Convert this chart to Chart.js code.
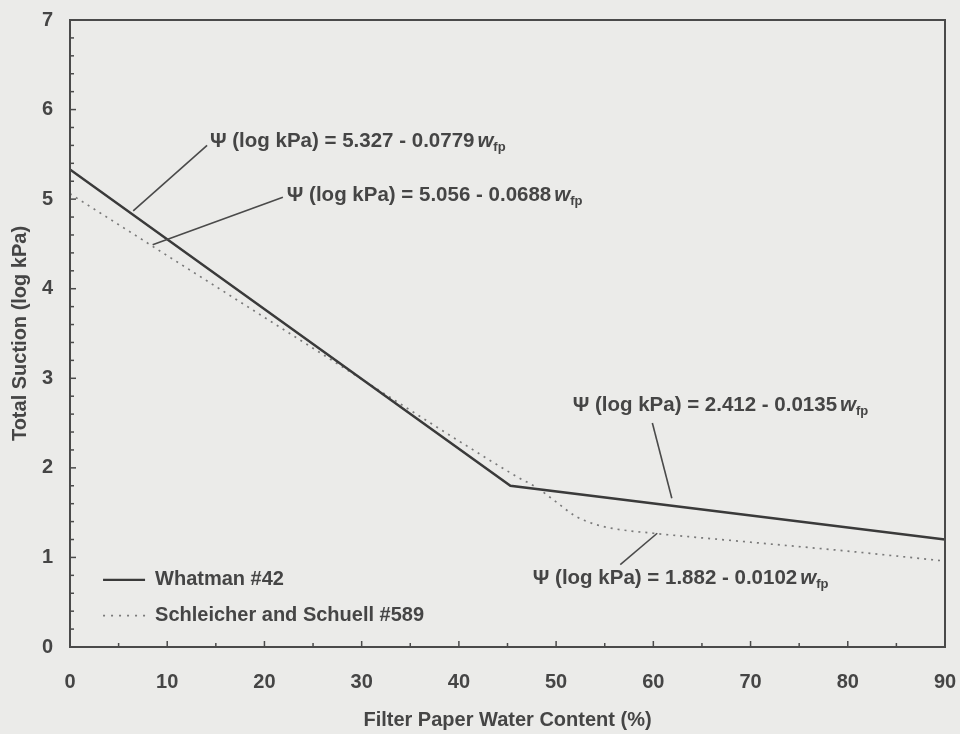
<!DOCTYPE html>
<html>
<head>
<meta charset="utf-8">
<script src="https://cdn.jsdelivr.net/npm/chart.js@4.4.1/dist/chart.umd.min.js"></script>
<style>
  html, body { margin: 0; padding: 0; background: #ebebe9; }
  #wrap { width: 960px; height: 734px; }
</style>
</head>
<body>
<div id="wrap"><canvas id="suctionChart" width="960" height="734"></canvas></div>
<script>
// Whatman #42 calibration (bilinear)
const whatmanX = [0, 45.3, 90];
const whatmanY = [5.33, 1.80, 1.20];

// Schleicher and Schuell #589 calibration (dotted, curved transition)
const schleicherX = [0, 10, 20, 30, 40, 46, 48, 50, 52, 54, 56, 60, 70, 80, 90];
const schleicherY = [5.06, 4.37, 3.68, 2.99, 2.30, 1.90, 1.78, 1.62, 1.46, 1.37, 1.32, 1.27, 1.17, 1.07, 0.96];

// equation labels: text, where it starts (data) and its leader line (data)
const eqText = [
    "\u03A8 (log kPa) = 5.327 - 0.0779",
    "\u03A8 (log kPa) = 5.056 - 0.0688",
    "\u03A8 (log kPa) = 2.412 - 0.0135",
    "\u03A8 (log kPa) = 1.882 - 0.0102"
];
const eqTextX = [14.4, 22.3, 51.7, 47.6];
const eqTextY = [5.64, 5.04, 2.70, 0.77];
const leaderFromX = [14.1, 21.9, 59.9, 56.6];
const leaderFromY = [5.60, 5.02, 2.50, 0.92];
const leaderToX = [6.5, 8.5, 61.9, 60.4];
const leaderToY = [4.87, 4.49, 1.66, 1.27];

const legendLabels = ["Whatman #42", "Schleicher and Schuell #589"];

const textColor = "#454545";
const fontFamily = "'Liberation Sans', Arial, sans-serif";

function toPoints(xs, ys) {
    return xs.map((x, i) => ({ x: x, y: ys[i] }));
}

// draws the frame, inside minor ticks, equations and the legend
const paperPlot = {
    id: "paperPlot",
    afterDraw(chart) {
        const ctx = chart.ctx;
        const area = chart.chartArea;
        const xs = chart.scales.x;
        const ys = chart.scales.y;

        ctx.save();
        ctx.strokeStyle = "#4a4a4a";
        ctx.lineWidth = 2;
        ctx.strokeRect(area.left, area.top, area.right - area.left, area.bottom - area.top);

        // inside ticks
        ctx.lineWidth = 1.5;
        for (let v = 0; v <= 90; v += 5) {
            const px = xs.getPixelForValue(v);
            const len = v % 10 === 0 ? 6 : 4;
            ctx.beginPath();
            ctx.moveTo(px, area.bottom);
            ctx.lineTo(px, area.bottom - len);
            ctx.stroke();
        }
        for (let i = 0; i <= 35; i++) {
            const py = ys.getPixelForValue(i / 5);
            const len = i % 5 === 0 ? 6 : 4;
            ctx.beginPath();
            ctx.moveTo(area.left, py);
            ctx.lineTo(area.left + len, py);
            ctx.stroke();
        }

        // leader lines
        ctx.strokeStyle = "#4a4a4a";
        ctx.lineWidth = 1.6;
        for (let i = 0; i < eqText.length; i++) {
            ctx.beginPath();
            ctx.moveTo(xs.getPixelForValue(leaderFromX[i]), ys.getPixelForValue(leaderFromY[i]));
            ctx.lineTo(xs.getPixelForValue(leaderToX[i]), ys.getPixelForValue(leaderToY[i]));
            ctx.stroke();
        }

        // equations
        ctx.fillStyle = textColor;
        ctx.textBaseline = "middle";
        ctx.textAlign = "left";
        for (let i = 0; i < eqText.length; i++) {
            let px = xs.getPixelForValue(eqTextX[i]);
            const py = ys.getPixelForValue(eqTextY[i]);
            ctx.font = "bold 20.5px " + fontFamily;
            ctx.fillText(eqText[i], px, py);
            px += ctx.measureText(eqText[i]).width + 3;
            ctx.font = "italic bold 20.5px " + fontFamily;
            ctx.fillText("w", px, py);
            px += ctx.measureText("w").width;
            ctx.font = "bold 13px " + fontFamily;
            ctx.fillText("fp", px, py + 6);
        }

        // legend
        ctx.font = "bold 20px " + fontFamily;
        const lx = xs.getPixelForValue(3.4);
        const rows = [ys.getPixelForValue(0.75), ys.getPixelForValue(0.35)];
        for (let i = 0; i < legendLabels.length; i++) {
            ctx.strokeStyle = i === 0 ? "#3a3a3a" : "#7a7a7a";
            ctx.lineWidth = i === 0 ? 2.2 : 1.6;
            ctx.setLineDash(i === 0 ? [] : [2, 6]);
            ctx.beginPath();
            ctx.moveTo(lx, rows[i]);
            ctx.lineTo(lx + 42, rows[i]);
            ctx.stroke();
            ctx.setLineDash([]);
            ctx.fillText(legendLabels[i], lx + 52, rows[i]);
        }
        ctx.restore();
    }
};

const ctx = document.getElementById("suctionChart").getContext("2d");
const chart = new Chart(ctx, {
    type: "scatter",
    data: {
        datasets: [
            {
                label: legendLabels[0],
                data: toPoints(whatmanX, whatmanY),
                showLine: true,
                borderColor: "#3a3a3a",
                borderWidth: 2.4,
                pointRadius: 0,
                tension: 0
            },
            {
                label: legendLabels[1],
                data: toPoints(schleicherX, schleicherY),
                showLine: true,
                borderColor: "#7a7a7a",
                borderWidth: 1.7,
                borderDash: [2, 5],
                pointRadius: 0,
                cubicInterpolationMode: "monotone"
            }
        ]
    },
    options: {
        responsive: false,
        animation: false,
        layout: { padding: { top: 20, right: 15, left: 0, bottom: 0 } },
        plugins: {
            legend: { display: false },
            tooltip: { enabled: false }
        },
        scales: {
            x: {
                type: "linear",
                min: 0,
                max: 90,
                grid: { display: false, drawTicks: false },
                border: { display: false },
                ticks: {
                    stepSize: 10,
                    padding: 23,
                    maxRotation: 0,
                    color: textColor,
                    font: { family: fontFamily, size: 20, weight: "bold" }
                },
                title: {
                    display: true,
                    text: "Filter Paper Water Content (%)",
                    color: textColor,
                    padding: { top: 0, bottom: 2 },
                    font: { family: fontFamily, size: 20, weight: "bold" }
                },
                afterFit(scale) {
                    scale.height = 87;
                    scale.paddingLeft = 0;
                    scale.paddingRight = 0;
                }
            },
            y: {
                type: "linear",
                min: 0,
                max: 7,
                grid: { display: false, drawTicks: false },
                border: { display: false },
                ticks: {
                    stepSize: 1,
                    padding: 17,
                    color: textColor,
                    font: { family: fontFamily, size: 20, weight: "bold" }
                },
                title: {
                    display: true,
                    text: "Total Suction (log kPa)",
                    color: textColor,
                    padding: { top: 8, bottom: 0 },
                    font: { family: fontFamily, size: 20, weight: "bold" }
                },
                afterFit(scale) {
                    scale.width = 70;
                    scale.paddingTop = 0;
                    scale.paddingBottom = 0;
                }
            }
        }
    },
    plugins: [paperPlot]
});
</script>
</body>
</html>
